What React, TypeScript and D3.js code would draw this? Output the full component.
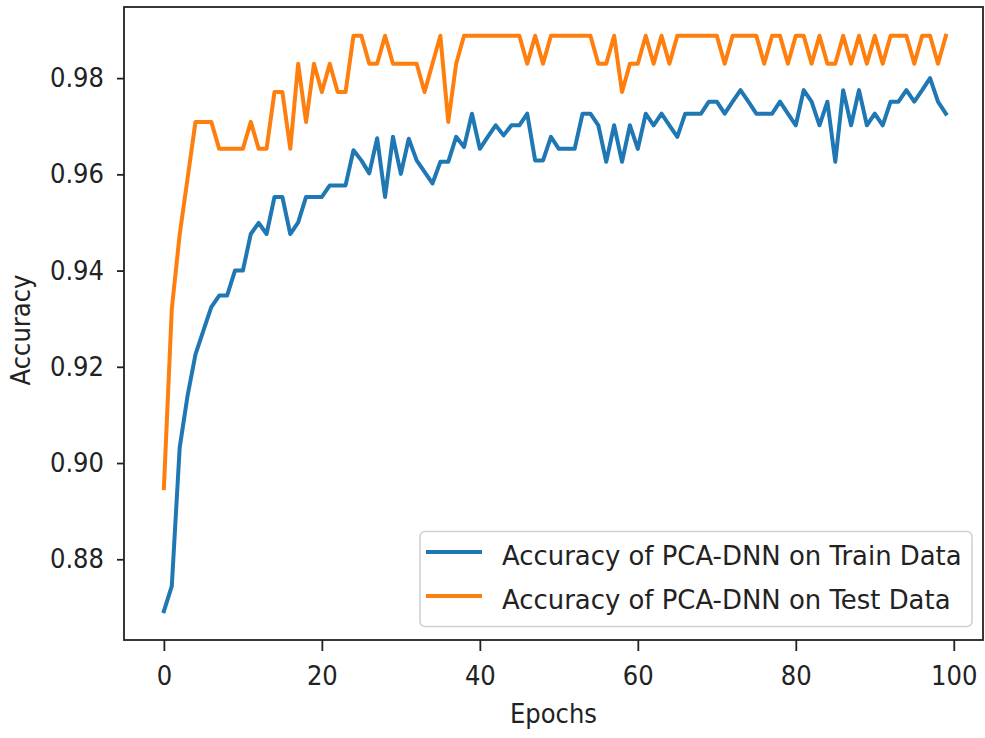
import React, { useEffect, useRef } from 'react';
import * as d3 from 'd3';

// accuracy per epoch
const trainAcc = [
  0.8692, 0.8744, 0.9032, 0.914, 0.9226, 0.9275, 0.9324, 0.9348, 0.9348, 0.94,
  0.94, 0.9476, 0.9499, 0.9476, 0.9553, 0.9553, 0.9476, 0.95, 0.9553, 0.9553,
  0.9553, 0.9577, 0.9577, 0.9577, 0.965, 0.9629, 0.9602, 0.9675, 0.9553, 0.9678,
  0.9601, 0.9674, 0.9629, 0.9605, 0.9581, 0.9626, 0.9626, 0.9678, 0.9657, 0.9726,
  0.9653, 0.9678, 0.9702, 0.9681, 0.9702, 0.9702, 0.9726, 0.9629, 0.9629, 0.9678,
  0.9653, 0.9653, 0.9653, 0.9726, 0.9726, 0.9702, 0.9626, 0.9702, 0.9626, 0.9702,
  0.9653, 0.9726, 0.9702, 0.9726, 0.9702, 0.9678, 0.9726, 0.9726, 0.9726, 0.9751,
  0.9751, 0.9726, 0.9751, 0.9775, 0.9751, 0.9726, 0.9726, 0.9726, 0.9751, 0.9726,
  0.9702, 0.9775, 0.9751, 0.9702, 0.9751, 0.9626, 0.9775, 0.9702, 0.9775, 0.9702,
  0.9726, 0.9702, 0.9751, 0.9751, 0.9775, 0.9751, 0.9775, 0.98, 0.9751, 0.9726,
];

const testAcc = [
  0.8948, 0.932, 0.9475, 0.9592, 0.9709, 0.9709, 0.9709, 0.9653, 0.9653, 0.9653,
  0.9653, 0.9709, 0.9653, 0.9653, 0.9771, 0.9771, 0.9653, 0.983, 0.9709, 0.983,
  0.9771, 0.983, 0.9771, 0.9771, 0.9888, 0.9888, 0.983, 0.983, 0.9888, 0.983,
  0.983, 0.983, 0.983, 0.9771, 0.983, 0.9888, 0.9709, 0.983, 0.9888, 0.9888,
  0.9888, 0.9888, 0.9888, 0.9888, 0.9888, 0.9888, 0.983, 0.9888, 0.983, 0.9888,
  0.9888, 0.9888, 0.9888, 0.9888, 0.9888, 0.983, 0.983, 0.9888, 0.9771, 0.983,
  0.983, 0.9888, 0.983, 0.9888, 0.983, 0.9888, 0.9888, 0.9888, 0.9888, 0.9888,
  0.9888, 0.983, 0.9888, 0.9888, 0.9888, 0.9888, 0.983, 0.9888, 0.9888, 0.983,
  0.9888, 0.9888, 0.983, 0.9888, 0.983, 0.983, 0.9888, 0.983, 0.9888, 0.983,
  0.9888, 0.983, 0.9888, 0.9888, 0.9888, 0.983, 0.9888, 0.9888, 0.983, 0.9888,
];

const xTicks = [0, 20, 40, 60, 80, 100];
const yTicks = [0.88, 0.9, 0.92, 0.94, 0.96, 0.98];
const seriesLabels = ['Accuracy of PCA-DNN on Train Data', 'Accuracy of PCA-DNN on Test Data'];
const seriesColors = ['#1f77b4', '#ff7f0e'];

const AccuracyChart = () => {
  const svgRef = useRef<SVGSVGElement>(null);

  useEffect(() => {
    const svg = d3.select(svgRef.current);
    svg.selectAll('*').remove();

    const plot = { left: 124, right: 983, top: 7, bottom: 640 };
    const fontSize = 27;
    const squeeze = 0.9; // the figure's text is narrower than plain DejaVu
    const ink = '#222';

    const x = d3.scaleLinear().domain([-5.05, 103.7]).range([plot.left, plot.right]);
    const [lo, hi] = d3.extent(trainAcc.concat(testAcc)) as [number, number];
    const pad = (hi - lo) * 0.05;
    const y = d3.scaleLinear().domain([lo - pad, hi + pad]).range([plot.bottom, plot.top]);

    svg.append('defs').append('clipPath').attr('id', 'plot-clip')
      .append('rect')
      .attr('x', plot.left).attr('y', plot.top)
      .attr('width', plot.right - plot.left).attr('height', plot.bottom - plot.top);

    // lines
    const line = d3.line<number>()
      .x((_, i) => x(i))
      .y(d => y(d));

    svg.append('g')
      .attr('clip-path', 'url(#plot-clip)')
      .selectAll('path')
      .data([trainAcc, testAcc])
      .join('path')
      .attr('d', d => line(d))
      .attr('fill', 'none')
      .attr('stroke', (_, i) => seriesColors[i])
      .attr('stroke-width', 4)
      .attr('stroke-linejoin', 'round')
      .attr('stroke-linecap', 'square');

    // axes
    const styleTicks = (g, isY) => {
      g.select('.domain').remove();
      g.selectAll('line').attr('stroke', ink).attr('stroke-width', 1.8);
      g.selectAll('text')
        .attr('fill', ink)
        .style('font-family', 'DejaVu Sans')
        .style('font-size', `${fontSize}px`)
        .attr('transform', `scale(${squeeze},1)`);
      if (isY) g.selectAll('text').attr('x', -20 / squeeze);
    };

    svg.append('g')
      .attr('transform', `translate(0,${plot.bottom})`)
      .call(d3.axisBottom(x).tickValues(xTicks).tickFormat(d3.format('d')).tickSize(11).tickPadding(15))
      .call(g => styleTicks(g, false));

    svg.append('g')
      .attr('transform', `translate(${plot.left},0)`)
      .call(d3.axisLeft(y).tickValues(yTicks).tickFormat(d3.format('.2f')).tickSize(7))
      .call(g => styleTicks(g, true));

    // frame
    svg.append('rect')
      .attr('x', plot.left).attr('y', plot.top)
      .attr('width', plot.right - plot.left).attr('height', plot.bottom - plot.top)
      .attr('fill', 'none')
      .attr('stroke', ink)
      .attr('stroke-width', 1.8);

    const addText = (tx, ty, str, rotate = 0, sx = squeeze) =>
      svg.append('g')
        .attr('transform', `translate(${tx},${ty}) rotate(${rotate}) scale(${sx},1)`)
        .append('text')
        .attr('text-anchor', rotate ? 'middle' : 'start')
        .attr('fill', ink)
        .style('font-family', 'DejaVu Sans')
        .style('font-size', `${fontSize}px`)
        .text(str);

    // axis titles
    addText((plot.left + plot.right) / 2, 723, 'Epochs').attr('text-anchor', 'middle');
    addText(30, 330, 'Accuracy', -90);

    // legend
    const legend = svg.append('g');
    legend.append('rect')
      .attr('x', 420).attr('y', 531.5)
      .attr('width', 552).attr('height', 95)
      .attr('rx', 5)
      .attr('fill', 'white')
      .attr('fill-opacity', 0.85)
      .attr('stroke', '#d0d0d0')
      .attr('stroke-width', 1.5);

    seriesLabels.forEach((label, i) => {
      const rowY = 552 + i * 44;
      legend.append('line')
        .attr('x1', 426).attr('x2', 482)
        .attr('y1', rowY).attr('y2', rowY)
        .attr('stroke', seriesColors[i])
        .attr('stroke-width', 4);
      addText(502, rowY + 13, label, 0, 0.96);
    });
  }, []);

  return <svg ref={svgRef} width="985" height="738" style={{ position: 'absolute', left: 0, top: 0, background: 'white' }}></svg>;
};

export default function App() {
  return <AccuracyChart />;
}
